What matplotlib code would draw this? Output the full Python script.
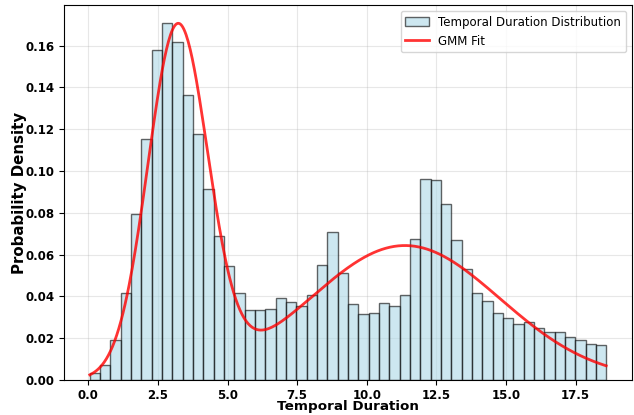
import numpy as np
import matplotlib
matplotlib.use("Agg")
import matplotlib.pyplot as plt

# Histogram bin edges (50 bins) and densities
bin_start, bin_end, n_bins = 0.05, 18.6, 50
densities = [
    0.0032, 0.0072, 0.0190, 0.0417, 0.0794, 0.1151, 0.1578, 0.1709, 0.1618, 0.1362,
    0.1177, 0.0914, 0.0689, 0.0545, 0.0415, 0.0335, 0.0337, 0.0342, 0.0390, 0.0375,
    0.0353, 0.0406, 0.0550, 0.0706, 0.0513, 0.0364, 0.0315, 0.0319, 0.0370, 0.0355,
    0.0406, 0.0677, 0.0962, 0.0958, 0.0842, 0.0671, 0.0532, 0.0418, 0.0377, 0.0323,
    0.0299, 0.0268, 0.0276, 0.0248, 0.0229, 0.0229, 0.0205, 0.0190, 0.0172, 0.0166,
]

# GMM components (weights, means, standard deviations)
gmm_weights = [0.45, 0.55]
gmm_means = [3.21, 11.37]
gmm_sds = [1.075, 3.41]

edges = np.linspace(bin_start, bin_end, n_bins + 1)
centers = 0.5 * (edges[:-1] + edges[1:])

fig = plt.figure(figsize=(6.34, 4.15), dpi=100)
ax = fig.add_axes([64/634, 1-380/415, (632-64)/634, (380-5)/415])

ax.hist(centers, bins=edges, weights=densities, color="lightblue",
        edgecolor="black", alpha=0.6, linewidth=1.0,
        label="Temporal Duration Distribution")

xs = np.linspace(bin_start, bin_end, 500)
pdf = np.zeros_like(xs)
for w, m, s in zip(gmm_weights, gmm_means, gmm_sds):
    pdf += w / (s * np.sqrt(2 * np.pi)) * np.exp(-0.5 * ((xs - m) / s) ** 2)
ax.plot(xs, pdf, color="red", linewidth=2, alpha=0.8, label="GMM Fit")

ax.set_xlabel("Temporal Duration", fontsize=9.7, fontweight="bold")
ax.set_ylabel("Probability Density", fontsize=10.8, fontweight="bold")
ax.xaxis.set_label_coords(0.5, -0.053)
ax.yaxis.set_label_coords(-0.066, 0.5)
ax.tick_params(labelsize=8.5, length=3.5)
ax.tick_params(axis="x", pad=2.8)
for lbl in ax.get_xticklabels() + ax.get_yticklabels():
    lbl.set_fontweight("bold")
ax.grid(True, alpha=0.3)
ax.set_axisbelow(True)
ax.legend(loc="upper right", fontsize=8.5)

fig.savefig("out.png", dpi=100)
